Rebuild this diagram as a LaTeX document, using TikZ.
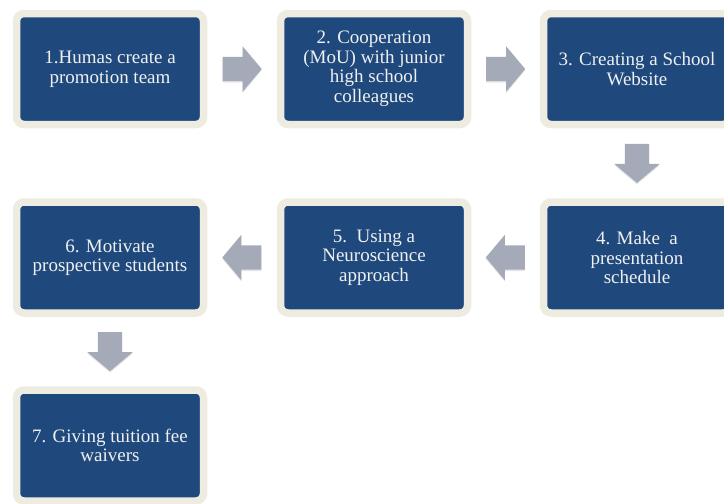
\documentclass[tikz,border=0pt]{standalone}
\usepackage{fontspec}
\setmainfont{Liberation Serif}
\usepackage{tikz}
\usetikzlibrary{calc,shapes.arrows,shadows}
\definecolor{stepblue}{HTML}{1F497D}
\definecolor{stepframe}{HTML}{EEECE1}
\definecolor{arrowgray}{HTML}{A5AAB9}

\begin{document}
\begin{tikzpicture}[x=1pt, y=-1pt,
  box/.style={draw=stepframe, line width=7.5pt, fill=stepblue, rounded corners=7.5pt,
              minimum width=187pt, minimum height=111pt, align=center,
              text=white!94!black, font=\fontsize{19}{19.5}\selectfont, inner sep=2pt,
              drop shadow={opacity=0.22, shadow xshift=0pt, shadow yshift=-2.5pt}},
  blk/.style={single arrow, draw=none, fill=arrowgray, inner xsep=0pt, inner ysep=12pt,
              minimum height=39pt, single arrow head extend=10.5pt,
              single arrow tip angle=100, single arrow head indent=0pt, anchor=tail,
              drop shadow={opacity=0.2, shadow xshift=0pt, shadow yshift=-1.5pt}},
]
\useasboundingbox (0,0) rectangle (724,504);

% top row, left to right
\node[box] (s1) at (110,69) {1.Humas create a\\promotion team};
\node[box] (s2) at (374,69) {2. Cooperation\\(MoU) with junior\\high school\\colleagues};
\node[box] (s3) at (637,69) {3. Creating a School\\Website};

% middle row, right to left
\node[box] (s4) at (637,257.5) {4. Make\ \ a\\presentation\\schedule};
\node[box] (s5) at (374,257.5) {5.\ \ Using a\\Neuroscience\\approach};
\node[box] (s6) at (110,257.5) {6. Motivate\\prospective students};

% last step
\node[box] (s7) at (110,445.5) {7. Giving tuition fee\\waivers};

% block arrows between the steps (tail half a length before the gap's middle)
\node[blk] (a12) at ($(s1.east)!0.5!(s2.west)+(-19.5,0)$) {};
\node[blk] (a23) at ($(s2.east)!0.5!(s3.west)+(-19.5,0)$) {};
\node[blk, rotate=-90] (a34) at ($(s3.south)!0.5!(s4.north)+(0,-19.5)$) {};
\node[blk, rotate=180] (a45) at ($(s4.west)!0.5!(s5.east)+(19.5,0)$) {};
\node[blk, rotate=180] (a56) at ($(s5.west)!0.5!(s6.east)+(19.5,0)$) {};
\node[blk, rotate=-90] (a67) at ($(s6.south)!0.5!(s7.north)+(0,-19.5)$) {};
\end{tikzpicture}
\end{document}
